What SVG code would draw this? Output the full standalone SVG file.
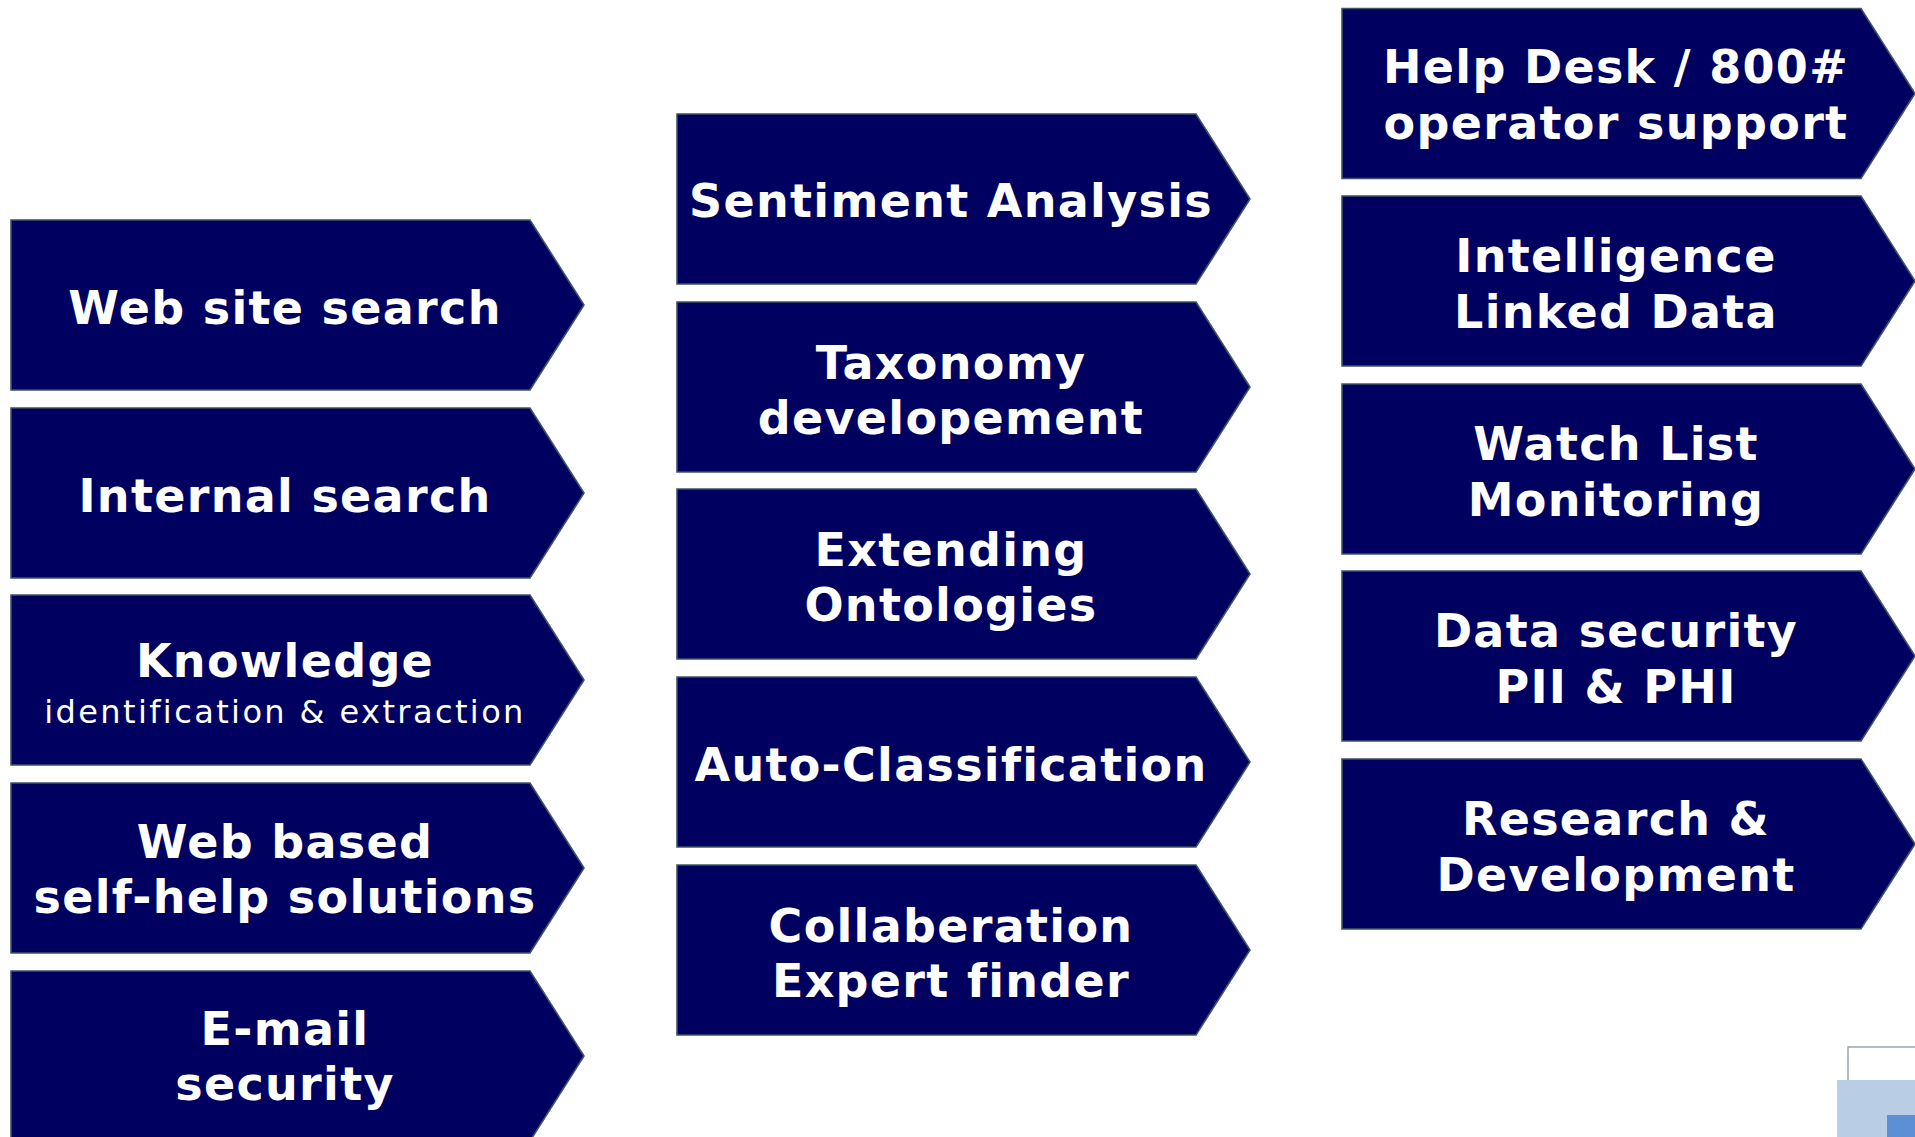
<svg xmlns="http://www.w3.org/2000/svg" xmlns:xlink="http://www.w3.org/1999/xlink" width="1915" height="1137" viewBox="0 0 1915 1137">
<style>
.box{fill:#000060;stroke:#3d5566;stroke-width:1.6}
.t{font-family:"DejaVu Sans",Verdana,sans-serif;font-weight:bold;font-size:46px;fill:#ffffff;text-anchor:middle;letter-spacing:1.3px}
.s{font-family:"DejaVu Sans",Verdana,sans-serif;font-weight:normal;font-size:32px;fill:#ffffff;text-anchor:middle;letter-spacing:2.4px}
</style>
<defs>
<path id="chev" d="M0,0 H519 L573,85 L519,170 H0 Z"/>
</defs>
<rect width="1915" height="1137" fill="#ffffff"/>
<g id="connectors"></g>

<!-- Left column -->
<g id="web-site-search"><use xlink:href="#chev" class="box" x="11" y="220"/>
<text class="t" x="285" y="324">Web site search</text></g>
<g id="internal-search"><use xlink:href="#chev" class="box" x="11" y="408"/>
<text class="t" x="285" y="512">Internal search</text></g>
<g id="knowledge"><use xlink:href="#chev" class="box" x="11" y="595"/>
<text class="t" x="285" y="677">Knowledge</text>
<text class="s" x="285" y="723">identification &amp; extraction</text></g>
<g id="web-based"><use xlink:href="#chev" class="box" x="11" y="783"/>
<text class="t" x="285" y="858">Web based</text>
<text class="t" x="285" y="913">self-help solutions</text></g>
<g id="email-security"><use xlink:href="#chev" class="box" x="11" y="971"/>
<text class="t" x="285" y="1045">E-mail</text>
<text class="t" x="285" y="1100">security</text></g>

<!-- Middle column -->
<g id="sentiment-analysis"><use xlink:href="#chev" class="box" x="677" y="114"/>
<text class="t" x="951" y="217">Sentiment Analysis</text></g>
<g id="taxonomy"><use xlink:href="#chev" class="box" x="677" y="302"/>
<text class="t" x="951" y="379">Taxonomy</text>
<text class="t" x="951" y="434">developement</text></g>
<g id="extending-ontologies"><use xlink:href="#chev" class="box" x="677" y="489"/>
<text class="t" x="951" y="566">Extending</text>
<text class="t" x="951" y="621">Ontologies</text></g>
<g id="auto-classification"><use xlink:href="#chev" class="box" x="677" y="677"/>
<text class="t" x="951" y="781">Auto-Classification</text></g>
<g id="collaberation"><use xlink:href="#chev" class="box" x="677" y="865"/>
<text class="t" x="951" y="942">Collaberation</text>
<text class="t" x="951" y="997">Expert finder</text></g>

<!-- Right column -->
<g id="help-desk"><use xlink:href="#chev" class="box" x="1342" y="8.5"/>
<text class="t" x="1616" y="83">Help Desk / 800#</text>
<text class="t" x="1616" y="139">operator support</text></g>
<g id="intelligence"><use xlink:href="#chev" class="box" x="1342" y="196"/>
<text class="t" x="1616" y="272">Intelligence</text>
<text class="t" x="1616" y="328">Linked Data</text></g>
<g id="watch-list"><use xlink:href="#chev" class="box" x="1342" y="384"/>
<text class="t" x="1616" y="460">Watch List</text>
<text class="t" x="1616" y="516">Monitoring</text></g>
<g id="data-security"><use xlink:href="#chev" class="box" x="1342" y="571"/>
<text class="t" x="1616" y="647">Data security</text>
<text class="t" x="1616" y="703">PII &amp; PHI</text></g>
<g id="research"><use xlink:href="#chev" class="box" x="1342" y="759"/>
<text class="t" x="1616" y="835">Research &amp;</text>
<text class="t" x="1616" y="891">Development</text></g>

<!-- Partial corner graphic -->
<g id="corner-graphic">
<path d="M1848,1080 V1047 H1915" fill="none" stroke="#9aa6b2" stroke-width="1.5"/>
<rect x="1837" y="1080" width="78" height="57" fill="#b9cde5"/>
<rect x="1887" y="1115" width="28" height="22" fill="#5d8fd6"/>
</g>
</svg>
